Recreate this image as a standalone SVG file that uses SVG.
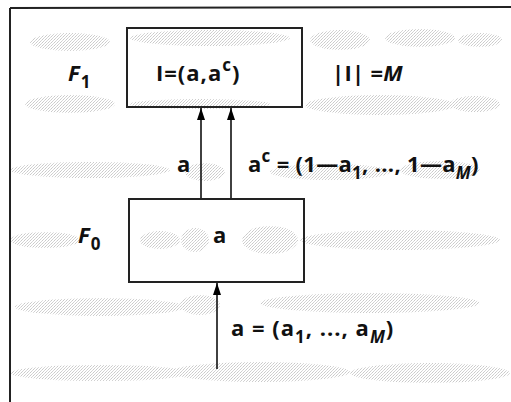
<svg xmlns="http://www.w3.org/2000/svg" width="511" height="402" viewBox="0 0 511 402">
<defs>
<pattern id="noise" width="3" height="3" patternUnits="userSpaceOnUse">
<rect width="3" height="3" fill="#fff"/>
<rect x="0" y="0" width="1" height="1" fill="#888"/>
<rect x="2" y="1" width="1" height="1" fill="#aaa"/>
<rect x="1" y="2" width="1" height="1" fill="#999"/>
</pattern>
<marker id="ah" markerWidth="12" markerHeight="8" refX="12" refY="4" orient="auto" markerUnits="userSpaceOnUse" viewBox="0 0 12 8">
<path d="M0,0 L12,4 L0,8 Z" fill="#000"/>
</marker>
<style>
.t{font-family:"Open Sans","Liberation Sans",sans-serif;font-weight:700;font-size:22px;letter-spacing:1px;fill:#111}
.i{font-style:italic}
.sub{font-size:17px}
.box{fill:none;stroke:#222;stroke-width:2}
.edge{stroke:#111;stroke-width:1.6;fill:none}
.blob{fill:url(#noise);opacity:0.45}
</style>
</defs>
<g id="background">
<rect width="511" height="402" fill="#fff"/>
<g class="blob">
<ellipse cx="70" cy="42" rx="40" ry="9"/>
<ellipse cx="210" cy="38" rx="80" ry="8"/>
<ellipse cx="340" cy="40" rx="30" ry="10"/>
<ellipse cx="420" cy="38" rx="35" ry="9"/>
<ellipse cx="480" cy="40" rx="22" ry="7"/>
<ellipse cx="70" cy="104" rx="45" ry="9"/>
<ellipse cx="200" cy="104" rx="70" ry="5"/>
<ellipse cx="380" cy="105" rx="75" ry="10"/>
<ellipse cx="475" cy="104" rx="25" ry="8"/>
<ellipse cx="90" cy="170" rx="80" ry="8"/>
<ellipse cx="205" cy="172" rx="20" ry="9"/>
<ellipse cx="330" cy="172" rx="60" ry="8"/>
<ellipse cx="440" cy="170" rx="40" ry="9"/>
<ellipse cx="45" cy="240" rx="35" ry="8"/>
<ellipse cx="160" cy="240" rx="20" ry="9"/>
<ellipse cx="195" cy="240" rx="14" ry="12"/>
<ellipse cx="270" cy="240" rx="28" ry="14"/>
<ellipse cx="400" cy="240" rx="100" ry="10"/>
<ellipse cx="100" cy="307" rx="85" ry="9"/>
<ellipse cx="200" cy="305" rx="20" ry="10"/>
<ellipse cx="370" cy="303" rx="110" ry="10"/>
<ellipse cx="100" cy="373" rx="90" ry="8"/>
<ellipse cx="260" cy="372" rx="90" ry="10"/>
<ellipse cx="430" cy="373" rx="80" ry="10"/>
</g>
<path d="M10,8 L10,402 M10,8 L511,7" stroke="#222" stroke-width="2" fill="none"/>
</g>
<g id="connectors">
<line class="edge" x1="201" y1="199" x2="201" y2="108" marker-end="url(#ah)"/>
<line class="edge" x1="231" y1="199" x2="231" y2="108" marker-end="url(#ah)"/>
<line class="edge" x1="217" y1="369" x2="217" y2="283" marker-end="url(#ah)"/>
<text class="t" x="177" y="172">a</text>
<text class="t" x="248" y="172" style="letter-spacing:0.3px">a<tspan class="sub" dy="-10">c</tspan><tspan dy="10"> = (1—a</tspan><tspan class="sub" dy="7">1</tspan><tspan dy="-7">, ..., 1—a</tspan><tspan class="sub i" dy="7">M</tspan><tspan dy="-7">)</tspan></text>
<text class="t" x="231" y="336">a = (a<tspan class="sub" dy="7">1</tspan><tspan dy="-7">, ..., a</tspan><tspan class="sub i" dy="7">M</tspan><tspan dy="-7">)</tspan></text>
</g>
<g id="F1">
<rect class="box" x="127" y="28" width="175" height="79"/>
<text class="t" x="156" y="81">I=(a,a<tspan class="sub" dy="-10">c</tspan><tspan dy="10">)</tspan></text>
<text class="t i" x="68" y="81">F<tspan class="sub" font-style="normal" dy="7">1</tspan></text>
<text class="t" x="332" y="81" style="letter-spacing:0.3px">|I| =<tspan class="i">M</tspan></text>
</g>
<g id="F0">
<rect class="box" x="129" y="199" width="175" height="83"/>
<text class="t" x="213" y="243">a</text>
<text class="t i" x="78" y="243">F<tspan class="sub" font-style="normal" dy="7">0</tspan></text>
</g>
</svg>
